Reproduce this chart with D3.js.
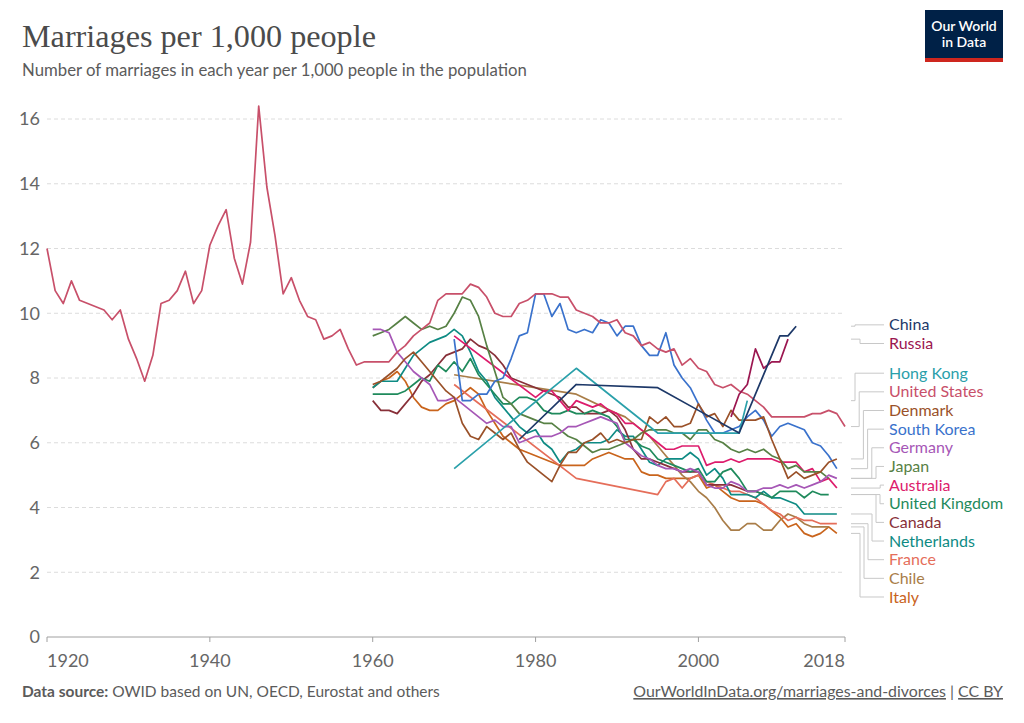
<!DOCTYPE html>
<html><head><meta charset="utf-8">
<script src="https://cdn.jsdelivr.net/npm/d3@7"></script>
<style>
body{margin:0;background:#fff;}
svg text{font-family:Lato,'Noto Sans',sans-serif;}
</style>
</head><body>
<svg id="c" width="1024" height="723"></svg>
<script>
// ---------- DATA ----------
const yTicks = [0, 2, 4, 6, 8, 10, 12, 14, 16];
const xTicks = [1920, 1940, 1960, 1980, 2000, 2018];

const unitedStatesStart = 1920;
const unitedStatesValues = [
 12.0,10.7,10.3,11.0,10.4,10.3,10.2,10.1,9.8,10.1,
 9.2,8.6,7.9,8.7,10.3,10.4,10.7,11.3,10.3,10.7,
 12.1,12.7,13.2,11.7,10.9,12.2,16.4,13.9,12.4,10.6,
 11.1,10.4,9.9,9.8,9.2,9.3,9.5,8.9,8.4,8.5,
 8.5,8.5,8.5,8.8,9.0,9.3,9.5,9.7,10.4,10.6,
 10.6,10.6,10.9,10.8,10.5,10.0,9.9,9.9,10.3,10.4,
 10.6,10.6,10.6,10.5,10.5,10.1,10.0,9.9,9.7,9.7,
 9.8,9.4,9.3,9.0,9.1,8.9,8.8,8.9,8.4,8.6,
 8.3,8.2,7.8,7.7,7.8,7.6,7.5,7.3,7.1,6.8,
 6.8,6.8,6.8,6.8,6.9,6.9,7.0,6.9,6.5];

const chinaPoints = [[1978,6.1],[1985,7.8],[1995,7.7],[2000,7.0],[2005,6.3],[2010,9.3],[2011,9.3],[2012,9.6]];
const russiaPoints = [[2004,6.8],[2005,7.5],[2006,7.8],[2007,8.9],[2008,8.3],[2009,8.5],[2010,8.5],[2011,9.2]];
const hongKongPoints = [[1970,5.2],[1985,8.3],[1995,6.3],[2005,6.3],[2006,7.3]];

const southKoreaStart = 1970;
const southKoreaValues = [
 9.2,7.3,7.3,7.5,7.5,7.9,8.0,8.6,9.3,9.4,
 10.6,10.6,9.9,10.3,9.5,9.4,9.5,9.4,9.8,9.7,
 9.3,9.6,9.6,9.0,8.7,8.7,9.4,8.4,8.0,7.7,
 7.2,6.7,6.3,6.3,6.4,6.5,6.8,7.0,6.7,6.2,
 6.5,6.6,6.5,6.4,6.0,5.9,5.6,5.2];

const denmarkStart = 1960;
const denmarkValues = [
 7.8,7.9,8.1,8.3,8.6,8.8,8.5,8.2,7.9,7.6,
 7.4,6.6,6.2,6.1,6.5,6.3,6.1,6.3,5.8,5.4,
 5.2,5.0,4.8,5.3,5.7,5.7,6.0,6.1,6.3,6.0,
 6.1,6.0,6.1,6.1,6.8,6.6,6.8,6.5,6.5,6.6,
 7.2,6.8,6.9,6.5,7.0,6.7,6.7,6.7,6.8,6.1,
 5.5,4.9,5.1,4.9,5.0,5.1,5.4,5.5];

const germanyStart = 1960;
const germanyValues = [
 9.5,9.5,9.4,8.8,8.5,8.2,8.0,7.8,7.3,7.3,
 7.4,7.2,7.0,6.8,6.6,6.7,6.5,6.5,6.0,6.1,
 6.2,6.2,6.2,6.3,6.5,6.5,6.6,6.7,6.8,6.7,
 6.6,6.0,5.8,5.6,5.5,5.3,5.2,5.2,5.1,5.2,
 5.1,4.7,4.6,4.6,4.8,4.7,4.5,4.5,4.6,4.6,
 4.7,4.6,4.7,4.6,4.7,4.8,5.0,4.9];

const japanStart = 1960;
const japanValues = [
 9.3,9.4,9.5,9.7,9.9,9.7,9.5,9.6,9.5,9.6,
 10.0,10.5,10.4,9.9,9.0,8.2,7.4,7.2,6.9,6.8,
 6.7,6.6,6.6,6.4,6.2,6.1,5.9,5.7,5.8,5.8,
 5.9,6.0,6.1,6.3,6.4,6.4,6.4,6.3,6.3,6.1,
 6.4,6.4,6.1,6.0,5.8,5.7,5.8,5.7,5.8,5.6,
 5.5,5.2,5.3,5.1,5.1,5.1,4.9];

const australiaPoints = [[1970,9.3],
 [1980,7.4],[1981,7.6],[1982,7.6],[1983,7.3],[1984,7.0],[1985,7.3],[1986,7.2],[1987,7.1],[1988,7.2],[1989,7.0],
 [1990,6.9],[1991,6.6],[1992,6.6],[1993,6.4],[1994,6.2],[1995,6.0],[1996,5.8],[1997,5.8],[1998,5.9],[1999,5.9],
 [2000,5.9],[2001,5.3],[2002,5.4],[2003,5.4],[2004,5.5],[2005,5.4],[2006,5.5],[2007,5.5],[2008,5.5],[2009,5.5],
 [2010,5.4],[2011,5.4],[2012,5.4],[2013,5.1],[2014,5.2],[2015,4.8],[2016,4.9],[2017,4.6]];

const unitedKingdomStart = 1960;
const unitedKingdomValues = [
 7.5,7.5,7.5,7.5,7.6,7.8,8.0,7.9,8.4,8.2,
 8.5,8.2,8.6,8.1,7.8,7.5,7.2,7.2,7.4,7.4,
 7.3,7.0,6.9,6.9,7.0,6.9,6.9,7.0,6.9,6.8,
 6.5,6.1,6.1,5.9,5.8,5.5,5.4,5.3,5.2,5.1,
 5.2,4.8,4.8,5.1,5.2,4.9,4.5,4.5,4.4,4.3,
 4.5,4.5,4.5,4.3,4.5,4.4,4.4];

const canadaStart = 1960;
const canadaValues = [
 7.3,7.0,7.0,6.9,7.2,7.5,7.9,8.1,8.4,8.7,
 8.8,8.9,9.2,9.0,8.9,8.7,8.4,8.0,7.9,7.8,
 7.7,7.6,7.5,7.4,7.1,7.1,6.9,6.9,6.9,7.0,
 6.8,6.4,5.8,5.5,5.5,5.4,5.3,5.2,5.1,5.1,
 5.1,4.7,4.7,4.7,4.7,4.6,4.5,4.5,4.4];

const netherlandsStart = 1960;
const netherlandsValues = [
 7.7,7.9,7.9,7.9,8.3,8.7,8.9,9.1,9.2,9.3,
 9.5,9.3,8.8,8.2,7.9,7.4,7.1,6.8,6.5,6.3,
 6.4,6.0,5.8,5.4,5.7,5.8,6.0,6.0,6.0,6.1,
 6.4,6.2,6.2,5.8,5.4,5.3,5.5,5.5,5.5,5.7,
 5.5,5.0,5.2,4.9,4.4,4.4,4.4,4.3,4.5,4.3,
 4.3,4.2,4.1,3.8,3.8,3.8,3.8,3.8];

const francePoints = [[1970,7.8],[1985,4.9],[1995,4.4],[1996,4.8],[1997,4.9],[1998,4.6],[1999,4.9],
 [2000,5.0],[2001,4.8],[2002,4.7],[2003,4.6],[2004,4.5],[2005,4.5],[2006,4.4],[2007,4.3],[2008,4.1],[2009,3.9],
 [2010,3.8],[2011,3.6],[2012,3.7],[2013,3.6],[2014,3.6],[2015,3.5],[2016,3.5],[2017,3.5]];

const chilePoints = [[1970,8.1],[1985,7.5],[1990,6.9],[1991,6.8],[1992,6.6],[1993,6.4],[1994,6.2],[1995,5.9],
 [1996,5.6],[1997,5.3],[1998,5.0],[1999,4.8],[2000,4.5],[2001,4.3],[2002,4.0],[2003,3.6],[2004,3.3],[2005,3.3],
 [2006,3.5],[2007,3.5],[2008,3.3],[2009,3.3],[2010,3.6],[2011,3.8],[2012,3.7],[2013,3.5],[2014,3.4],[2015,3.4],[2016,3.4]];

const italyStart = 1960;
const italyValues = [
 7.7,7.9,8.0,8.2,7.9,7.4,7.1,7.0,7.0,7.2,
 7.3,7.5,7.7,7.5,7.0,6.6,6.2,6.0,5.8,5.7,
 5.6,5.5,5.4,5.3,5.3,5.3,5.3,5.5,5.6,5.7,
 5.6,5.5,5.5,5.1,5.0,5.0,4.9,4.9,4.9,4.9,
 5.0,4.6,4.7,4.5,4.3,4.2,4.2,4.2,4.1,3.9,
 3.7,3.4,3.5,3.2,3.1,3.2,3.4,3.2];

const countryNames = ["China","Russia","Hong Kong","United States","Denmark","South Korea","Germany","Japan",
  "Australia","United Kingdom","Canada","Netherlands","France","Chile","Italy"];
const countryColors = ["#1d3868","#9b1650","#2aa0aa","#c8506a","#9a5129","#3a72cc","#a657b6","#578145",
  "#dd1c6c","#1f8a5c","#883039","#0e8b84","#e56e5a","#a97d48","#c9641c"];

// ---------- BUILD ----------
const seq = (start, vals) => vals.map((v, i) => [start + i, v]);
const seriesData = [
  chinaPoints, russiaPoints, hongKongPoints,
  seq(unitedStatesStart, unitedStatesValues),
  seq(denmarkStart, denmarkValues),
  seq(southKoreaStart, southKoreaValues),
  seq(germanyStart, germanyValues),
  seq(japanStart, japanValues),
  australiaPoints,
  seq(unitedKingdomStart, unitedKingdomValues),
  seq(canadaStart, canadaValues),
  seq(netherlandsStart, netherlandsValues),
  francePoints, chilePoints,
  seq(italyStart, italyValues)
];
const series = countryNames.map((n, i) => ({name: n, color: countryColors[i], data: seriesData[i]}));

const svg = d3.select("#c");
const x = d3.scaleLinear().domain([1920, 2018]).range([47, 845]);
const y = d3.scaleLinear().domain([0, 16]).range([637, 119]);

function fitText(sel, target) {
  const w = sel.node().getComputedTextLength();
  const fs = parseFloat(sel.attr("font-size"));
  sel.attr("font-size", fs * target / w);
}

// Title & subtitle
const title = svg.append("text").attr("x", 22).attr("y", 47)
  .attr("font-size", 28).attr("fill", "#4b4b4b")
  .style("font-family", "'Liberation Serif','DejaVu Serif',serif")
  .text("Marriages per 1,000 people");
fitText(title, 354);
const sub = svg.append("text").attr("x", 22).attr("y", 76)
  .attr("font-size", 15).attr("fill", "#5b5b5b")
  .text("Number of marriages in each year per 1,000 people in the population");
fitText(sub, 505);

// Logo
const logo = svg.append("g");
logo.append("rect").attr("x", 925).attr("y", 10).attr("width", 78).attr("height", 52).attr("fill", "#002147");
logo.append("rect").attr("x", 925).attr("y", 58).attr("width", 78).attr("height", 4).attr("fill", "#ce261e");
logo.append("text").attr("x", 964).attr("y", 31).attr("text-anchor", "middle").attr("fill", "#fff")
  .attr("font-size", 14).attr("font-weight", 600).text("Our World");
logo.append("text").attr("x", 964).attr("y", 47).attr("text-anchor", "middle").attr("fill", "#fff")
  .attr("font-size", 14).attr("font-weight", 600).text("in Data");

// Grid
const grid = svg.append("g");
grid.selectAll("line").data(yTicks.filter(d => d > 0)).join("line")
  .attr("x1", 47).attr("x2", 845).attr("y1", d => y(d)).attr("y2", d => y(d))
  .attr("stroke", "#dcdcdc").attr("stroke-dasharray", "4,3");
svg.append("g").selectAll("text").data(yTicks).join("text")
  .attr("x", 40).attr("y", d => y(d)).attr("dy", "0.35em").attr("text-anchor", "end")
  .attr("font-size", 18).attr("fill", "#666").text(d => d);

// X axis
svg.append("line").attr("x1", 47).attr("x2", 845).attr("y1", y(0)).attr("y2", y(0))
  .attr("stroke", "#a0a0a0");
svg.append("g").selectAll("line").data(xTicks).join("line")
  .attr("x1", d => x(d)).attr("x2", d => x(d)).attr("y1", y(0)).attr("y2", y(0) + 5)
  .attr("stroke", "#a0a0a0");
svg.append("g").selectAll("text").data(xTicks).join("text")
  .attr("x", d => x(d)).attr("y", 667)
  .attr("text-anchor", (d, i) => i === 0 ? "start" : (i === xTicks.length - 1 ? "end" : "middle"))
  .attr("font-size", 18).attr("fill", "#666").text(d => d);

// Lines
const line = d3.line().x(d => x(d[0])).y(d => y(d[1]));
svg.append("g").selectAll("path").data(series.slice().reverse()).join("path")
  .attr("d", d => line(d.data)).attr("fill", "none").attr("stroke", d => d.color)
  .attr("stroke-width", 1.7).attr("stroke-linejoin", "round");

// Labels: cluster layout
const lh = 18.65;
const items = series.map(s => ({s, target: y(s.data[s.data.length - 1][1])}));
let clusters = [];
items.forEach(it => {
  clusters.push({items: [it]});
  let merged = true;
  while (merged && clusters.length > 1) {
    merged = false;
    const layout = c => {
      const m = d3.mean(c.items, d => d.target);
      c.top = m - (c.items.length - 1) / 2 * lh;
      c.bottom = c.top + (c.items.length - 1) * lh;
    };
    clusters.forEach(layout);
    const a = clusters[clusters.length - 2], b = clusters[clusters.length - 1];
    if (b.top - a.bottom < lh) {
      a.items = a.items.concat(b.items);
      clusters.pop();
      layout(a);
      merged = true;
    }
  }
});
clusters.forEach(c => {
  const m = d3.mean(c.items, d => d.target);
  const top = m - (c.items.length - 1) / 2 * lh + 1.5;
  c.items.forEach((it, k) => it.ly = top + k * lh);
  const ups = c.items.filter(it => it.ly <= it.target);
  const downs = c.items.filter(it => it.ly > it.target);
  ups.forEach((it, i) => it.sx = 855 + i * 4.2);
  downs.slice().reverse().forEach((it, j) => it.sx = 860 + j * 4);
});

const lg = svg.append("g");
lg.selectAll("path").data(items).join("path")
  .attr("d", d => `M851,${d.target}H${d.sx}V${d.ly}H884`)
  .attr("fill", "none").attr("stroke", "#c8c8c8").attr("stroke-width", 1);
lg.selectAll("text").data(items).join("text")
  .attr("x", 889).attr("y", d => d.ly).attr("dy", "0.35em")
  .attr("font-size", 16).attr("fill", d => d.s.color).text(d => d.s.name);

// Footer
const fl = svg.append("text").attr("x", 22).attr("y", 697).attr("font-size", 13.5).attr("fill", "#5b5b5b");
fl.append("tspan").attr("font-weight", 700).text("Data source:");
fl.append("tspan").text(" OWID based on UN, OECD, Eurostat and others");
fitText(fl, 418);
const fr = svg.append("text").attr("x", 1003).attr("y", 697).attr("text-anchor", "end")
  .attr("font-size", 13.5).attr("fill", "#5b5b5b");
fr.append("tspan").attr("text-decoration", "underline").text("OurWorldInData.org/marriages-and-divorces");
fr.append("tspan").text(" | ");
fr.append("tspan").attr("text-decoration", "underline").text("CC BY");
fitText(fr, 370);
</script>
</body></html>
